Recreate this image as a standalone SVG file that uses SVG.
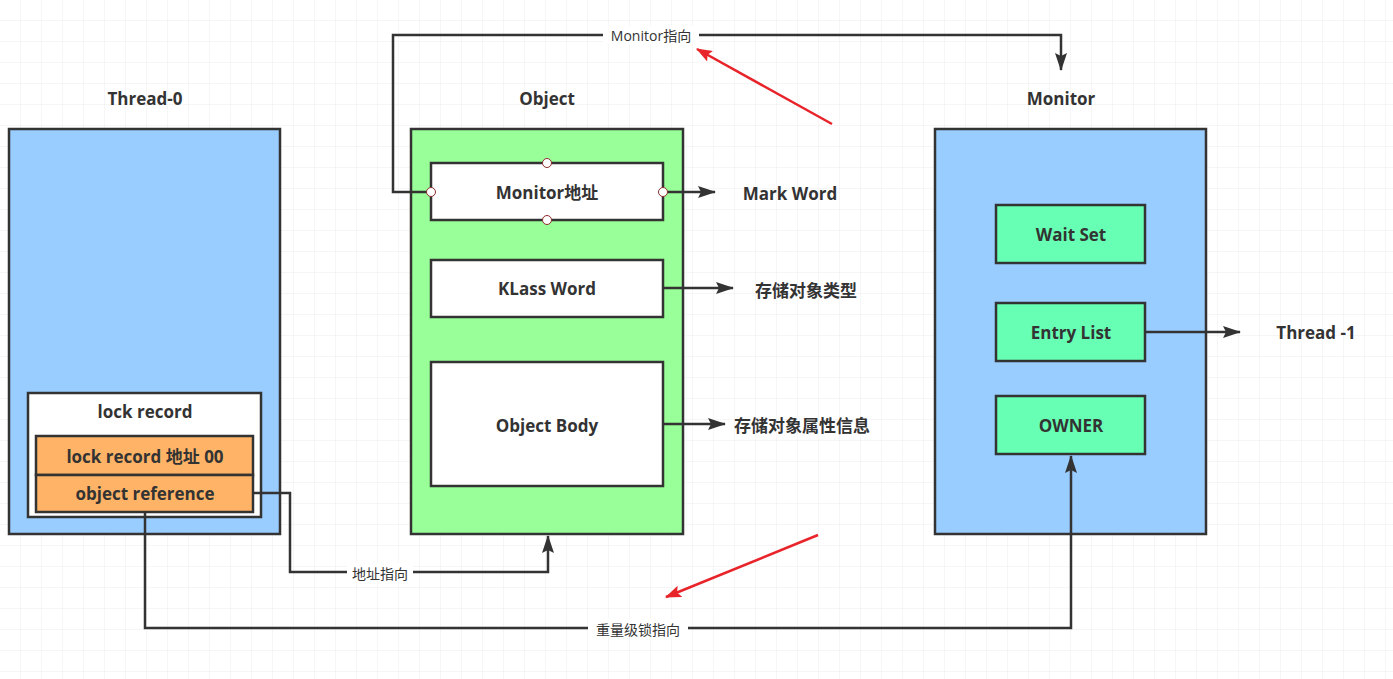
<svg xmlns="http://www.w3.org/2000/svg" width="1393" height="679" viewBox="0 0 1393 679">
<defs>
<pattern id="g" width="21" height="21" patternUnits="userSpaceOnUse"><path d="M21 0V21H0" fill="none" stroke="#ececec" stroke-width="1"/></pattern>
<marker id="a" markerWidth="10" markerHeight="10" refX="9" refY="5" orient="auto" markerUnits="userSpaceOnUse"><path d="M0 0L10 5L0 10L2 5Z" fill="#333"/></marker>
<marker id="ab" markerWidth="18" markerHeight="12" refX="17" refY="6" orient="auto" markerUnits="userSpaceOnUse"><path d="M0 0L18 6L0 12L3 6Z" fill="#333"/></marker>
<marker id="r" markerWidth="16" markerHeight="12" refX="15" refY="6" orient="auto" markerUnits="userSpaceOnUse"><path d="M0 0L16 6L0 12L3 6Z" fill="#e8232a"/></marker>
<style>
.b{stroke:#333;stroke-width:2.5}
.t{font-family:"Open Sans","Noto Sans CJK SC",sans-serif;font-weight:bold;font-size:17px;fill:#333;text-anchor:middle;dominant-baseline:central}
.s{font-family:"Open Sans","Noto Sans CJK SC",sans-serif;font-size:14px;fill:#333;text-anchor:middle;dominant-baseline:central}
.c{fill:none;stroke:#333;stroke-width:2.5}
.p{fill:#fff;stroke:#8b2b2b;stroke-width:1}
</style>
</defs>
<rect width="1393" height="679" fill="#fff"/>
<rect width="1393" height="679" fill="url(#g)"/>
<text class="t" x="145" y="98">Thread-0</text>
<text class="t" x="547" y="98">Object</text>
<text class="t" x="1061" y="98">Monitor</text>
<g id="thread0"><rect class="b" x="9" y="129" width="271" height="405" fill="#99ccff"/></g>
<g id="lockrecord"><rect class="b" x="28" y="393" width="233" height="124" fill="#fff"/><text class="t" x="145" y="411">lock record</text></g>
<g id="lraddr"><rect class="b" x="36" y="436" width="217" height="39" fill="#ffb366"/><text class="t" x="145" y="456">lock record 地址 00</text></g>
<g id="objref"><rect class="b" x="36" y="475" width="217" height="37" fill="#ffb366"/><text class="t" x="145" y="493">object reference</text></g>
<g id="object"><rect class="b" x="411" y="129" width="272" height="405" fill="#99ff99"/></g>
<g id="monaddr"><rect class="b" x="431" y="163" width="232" height="57" fill="#fff"/><text class="t" x="547" y="192">Monitor地址</text></g>
<g id="klass"><rect class="b" x="431" y="260" width="232" height="57" fill="#fff"/><text class="t" x="547" y="288">KLass Word</text></g>
<g id="body"><rect class="b" x="431" y="362" width="232" height="124" fill="#fff"/><text class="t" x="547" y="425">Object Body</text></g>
<g id="monitor"><rect class="b" x="935" y="129" width="271" height="405" fill="#99ccff"/></g>
<g id="waitset"><rect class="b" x="996" y="205" width="149" height="58" fill="#66ffb3"/><text class="t" x="1071" y="234">Wait Set</text></g>
<g id="entry"><rect class="b" x="996" y="303" width="149" height="58" fill="#66ffb3"/><text class="t" x="1071" y="332">Entry List</text></g>
<g id="owner"><rect class="b" x="996" y="396" width="149" height="58" fill="#66ffb3"/><text class="t" x="1071" y="425">OWNER</text></g>
<text class="t" x="790" y="193">Mark Word</text>
<text class="t" x="806" y="290">存储对象类型</text>
<text class="t" x="802" y="425">存储对象属性信息</text>
<text class="t" x="1316" y="332">Thread -1</text>
<g id="connectors">
<path class="c" d="M431 192H393V35H1061V70" marker-end="url(#ab)"/>
<path class="c" d="M663 192H715" marker-end="url(#ab)"/>
<path class="c" d="M663 288H733" marker-end="url(#ab)"/>
<path class="c" d="M663 424H725" marker-end="url(#ab)"/>
<path class="c" d="M1145 332H1240" marker-end="url(#ab)"/>
<path class="c" d="M253 493H290V572H548V536" marker-end="url(#ab)"/>
<path class="c" d="M145 512V628H1071V456" marker-end="url(#ab)"/>
<rect x="603" y="26" width="96" height="18" fill="#fff"/><text class="s" x="651" y="35">Monitor指向</text>
<rect x="347" y="563" width="66" height="18" fill="#fff"/><text class="s" x="380" y="573">地址指向</text>
<rect x="588" y="619" width="100" height="18" fill="#fff"/><text class="s" x="638" y="629">重量级锁指向</text>
<circle class="p" cx="547" cy="163" r="4.5"/><circle class="p" cx="547" cy="220" r="4.5"/><circle class="p" cx="431" cy="192" r="4.5"/><circle class="p" cx="663" cy="192" r="4.5"/>
<path d="M832 124L697 49" stroke="#e8232a" stroke-width="2.5" marker-end="url(#r)"/>
<path d="M818 535L666 597" stroke="#e8232a" stroke-width="2.5" marker-end="url(#r)"/>
</g>
</svg>
